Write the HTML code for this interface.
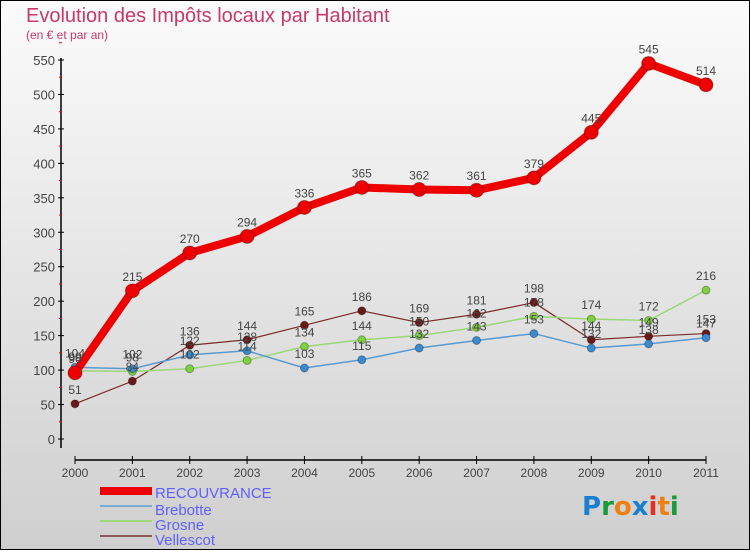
<!DOCTYPE html>
<html><head><meta charset="utf-8"><style>
body{margin:0;width:750px;height:550px;overflow:hidden;font-family:"Liberation Sans",sans-serif}
</style></head><body>
<svg width="750" height="550" xmlns="http://www.w3.org/2000/svg">
<defs><linearGradient id="bg" x1="0" y1="0" x2="0" y2="1"><stop offset="0" stop-color="#fbfbfb"/><stop offset="1" stop-color="#cfcfcf"/></linearGradient></defs>
<rect x="0.5" y="0.5" width="749" height="549" fill="url(#bg)" stroke="#000"/>
<text x="26" y="22" font-size="20" fill="#c8386a">Evolution des Impôts locaux par Habitant</text>
<text x="26" y="39" font-size="12" fill="#c8386a">(en € et par an)</text>
<g id="axes"></g><g id="series"></g><g id="labels"></g>
<g>
<rect x="100" y="487" width="52" height="8" fill="#e00"/>
<text x="155" y="498" font-size="15" fill="#6060ff">RECOUVRANCE</text>
<line x1="100" y1="536" x2="152" y2="536" stroke="#8c5a5a" stroke-width="2"/>
<line x1="100" y1="506" x2="152" y2="506" stroke="#7aaad0" stroke-width="2"/>
<text x="155" y="515" font-size="15" fill="#6060ff">Brebotte</text>
<line x1="100" y1="521" x2="152" y2="521" stroke="#9ad878" stroke-width="2"/>
<text x="155" y="530" font-size="15" fill="#6060ff">Grosne</text>
<text x="155" y="545" font-size="15" fill="#6060ff">Vellescot</text>
</g>
<g font-size="26" font-family="'DejaVu Sans',sans-serif" font-weight="bold">
<text x="582" y="515"><tspan fill="#1a7fd0">P</tspan><tspan fill="#1a9a3a">r</tspan><tspan fill="#f08010">o</tspan><tspan fill="#1a7fd0">x</tspan><tspan fill="#e03020">i</tspan><tspan fill="#f08010">t</tspan><tspan fill="#1a9a3a">i</tspan></text>
</g>
</svg>
<script>
const years=["2000","2001","2002","2003","2004","2005","2006","2007","2008","2009","2010","2011"];
const yTicks=[0,50,100,150,200,250,300,350,400,450,500,550];
const recouvrance=[96,215,270,294,336,365,362,361,379,445,545,514];
const brebotte=[104,102,122,128,103,115,132,143,153,132,138,147];
const grosne=[99,98,102,114,134,144,150,162,178,174,172,216];
const vellescot=[51,84,136,144,165,186,169,181,198,144,149,153];
const NS="http://www.w3.org/2000/svg";
const xS=i=>75+i*(706-75)/(years.length-1);
const yS=v=>439-v*(439-60)/550;
function mk(tag,attrs,parent){const e=document.createElementNS(NS,tag);for(const k in attrs)e.setAttribute(k,attrs[k]);parent.appendChild(e);return e;}
const ax=document.getElementById('axes'),sg=document.getElementById('series'),lg=document.getElementById('labels');
let yl=mk('line',{x1:61,y1:58,x2:61,y2:448,stroke:'#000','stroke-width':1.5},ax);


yTicks.forEach(v=>{
  mk('line',{x1:58,x2:64,y1:yS(v),y2:yS(v),stroke:'#000'},ax);
  mk('line',{x1:59,x2:62,y1:yS(v+25),y2:yS(v+25),stroke:'#e00'},ax);
  const t=mk('text',{x:55,y:yS(v)+5,'font-size':13,fill:'#444','text-anchor':'end'},ax);
  t.textContent=v;
  
  
});
let xl=mk('line',{x1:75,y1:460,x2:706,y2:460,stroke:'#000','stroke-width':1.5},ax);


years.forEach((y,i)=>{
  mk('line',{x1:xS(i),x2:xS(i),y1:456,y2:464,stroke:'#000'},ax);
  const t=mk('text',{x:xS(i),y:477,'font-size':12,fill:'#444','text-anchor':'middle'},ax);
  t.textContent=y;
  
  
});
function draw(data,name,color,dot,w,r){
  const p=mk('polyline',{points:data.map((v,i)=>xS(i)+','+yS(v)).join(' '),fill:'none',stroke:color,'stroke-width':w,'stroke-linejoin':'round'},sg);
  
  
  data.forEach((v,i)=>{
    const c=mk('circle',{cx:xS(i),cy:yS(v),r:r,fill:dot,stroke:'rgba(0,0,0,0.3)'},sg);
    
    
    const t=mk('text',{x:xS(i),y:yS(v)-10,'font-size':12,fill:'#444','text-anchor':'middle'},lg);
    t.textContent=v;
    
    
  });
}
draw(vellescot,'vellescot','#7a2a2a','#6a1818',1.2,4);
draw(grosne,'grosne','#9ad878','#7ed040',1.5,4);
draw(brebotte,'brebotte','#5a9ad0','#3a8ad0',1.5,4);
draw(recouvrance,'recouvrance','#e00','#e00',8,7);
</script>
</body></html>
